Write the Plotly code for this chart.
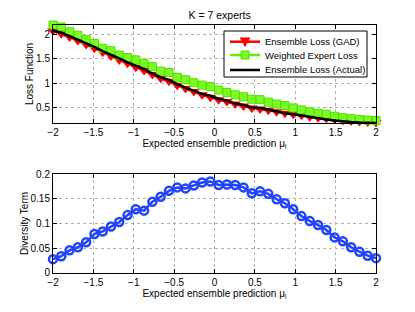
import numpy as np
import plotly.graph_objects as go
from plotly.subplots import make_subplots

x_vals = np.linspace(-2, 2, 40)

gad_loss = [2.08, 2.02, 1.95, 1.88, 1.80, 1.72, 1.64, 1.56, 1.48, 1.41,
            1.33, 1.26, 1.18, 1.10, 1.04, 0.96, 0.89, 0.83, 0.76, 0.71,
            0.66, 0.62, 0.57, 0.53, 0.49, 0.47, 0.44, 0.41, 0.38, 0.36,
            0.34, 0.31, 0.29, 0.27, 0.25, 0.23, 0.22, 0.21, 0.20, 0.19]

weighted_loss = [2.20, 2.16, 2.06, 1.99, 1.90, 1.82, 1.72, 1.67, 1.58, 1.53,
                 1.48, 1.41, 1.34, 1.25, 1.22, 1.12, 1.07, 1.01, 0.96, 0.93,
                 0.86, 0.81, 0.76, 0.72, 0.67, 0.66, 0.61, 0.57, 0.54, 0.49,
                 0.45, 0.41, 0.38, 0.36, 0.32, 0.29, 0.27, 0.25, 0.24, 0.23]

actual_loss = [2.09, 2.04, 1.97, 1.90, 1.83, 1.75, 1.66, 1.59, 1.51, 1.43,
               1.36, 1.29, 1.20, 1.12, 1.07, 0.98, 0.91, 0.85, 0.78, 0.74,
               0.68, 0.64, 0.58, 0.55, 0.50, 0.49, 0.45, 0.41, 0.38, 0.36,
               0.33, 0.30, 0.27, 0.25, 0.23, 0.21, 0.20, 0.19, 0.185, 0.18]

diversity = [0.028, 0.034, 0.046, 0.052, 0.062, 0.079, 0.084, 0.094, 0.103, 0.117,
             0.129, 0.126, 0.144, 0.154, 0.166, 0.173, 0.171, 0.177, 0.183, 0.185,
             0.178, 0.179, 0.178, 0.173, 0.161, 0.165, 0.160, 0.149, 0.141, 0.129,
             0.115, 0.105, 0.097, 0.087, 0.072, 0.064, 0.052, 0.043, 0.035, 0.030]

series_names = ["Ensemble Loss (GAD)", "Weighted Expert Loss", "Ensemble Loss (Actual)"]

x_ticks = [-2, -1.5, -1, -0.5, 0, 0.5, 1, 1.5, 2]
top_y_ticks = [0.5, 1, 1.5, 2]
bottom_y_ticks = [0, 0.05, 0.1, 0.15, 0.2]

FONT = "Liberation Sans, Arial, sans-serif"
RED, GREEN, GREEN_FILL, GREEN_EDGE, BLACK, BLUE = (
    "#ff0000", "#66ee00", "#77ff22", "#55dd00", "#000000", "#2244ff")

# figure geometry (pixels)
W, H = 407, 304
ML, MR, MT, MB = 45, 39, 17, 39
PW, PH = W - ML - MR, H - MT - MB

fig = make_subplots(rows=2, cols=1, vertical_spacing=0.0)

fig.add_trace(go.Scatter(x=x_vals, y=gad_loss, mode="lines+markers",
                         name=series_names[0], showlegend=False,
                         line=dict(color=RED, width=2.5),
                         marker=dict(symbol="triangle-down", size=10, color=RED),
                         cliponaxis=False), row=1, col=1)
fig.add_trace(go.Scatter(x=x_vals, y=weighted_loss, mode="lines+markers",
                         name=series_names[1], showlegend=False,
                         line=dict(color=GREEN, width=2.5),
                         marker=dict(symbol="square", size=8, color=GREEN_FILL,
                                     line=dict(color=GREEN_EDGE, width=1)),
                         cliponaxis=False), row=1, col=1)
fig.add_trace(go.Scatter(x=x_vals, y=actual_loss, mode="lines",
                         name=series_names[2], showlegend=False,
                         line=dict(color=BLACK, width=2.5),
                         cliponaxis=False), row=1, col=1)
fig.add_trace(go.Scatter(x=x_vals, y=diversity, mode="lines+markers",
                         name="Diversity Term", showlegend=False,
                         line=dict(color=BLUE, width=2.5),
                         marker=dict(symbol="circle-open", size=8, color=BLUE,
                                     line=dict(width=2.5)),
                         cliponaxis=False), row=2, col=1)

axis_common = dict(showline=True, linecolor="black", linewidth=1, mirror="ticks",
                   ticks="inside", ticklen=4, tickcolor="black", automargin=False,
                   showgrid=True, gridcolor="#b0b0b0", griddash="dot", gridwidth=1,
                   zeroline=False, tickfont=dict(size=10, color="black", family=FONT))

fig.update_xaxes(**axis_common, range=[-2, 2], tickvals=x_ticks,
                 ticktext=[("\u2212" + f"{abs(v):g}") if v < 0 else f"{v:g}" for v in x_ticks])
xtitle = dict(text="Expected ensemble prediction \u03bc<sub>l</sub>",
              font=dict(size=10, family=FONT, color="black"), standoff=1)
fig.update_xaxes(title=xtitle, row=1, col=1)
fig.update_xaxes(title=xtitle, row=2, col=1)
fig.update_yaxes(**axis_common)
fig.update_yaxes(range=[0.18, 2.2], tickvals=top_y_ticks,
                 title=dict(text="Loss Function", font=dict(size=10, family=FONT, color="black"),
                            standoff=0), row=1, col=1)
fig.update_yaxes(range=[0, 0.2], tickvals=bottom_y_ticks,
                 title=dict(text="Diversity Term", font=dict(size=10, family=FONT, color="black"),
                            standoff=0), row=2, col=1)

# ---- legend box (drawn in paper coordinates, pixel-based layout) ----
def px(xp):  # plot-area-relative pixel -> paper x
    return xp / PW

def py(yp):  # pixel from top of plot area -> paper y
    return 1 - yp / PH

box_l, box_r, box_t, box_b = 171, 314, 6, 52      # px relative to plot area
row_y = [16.7, 30.0, 45.0]
line_l, line_r, text_x = 177, 207, 210
mcx = (line_l + line_r) / 2

shapes = [dict(type="rect", xref="paper", yref="paper",
               x0=px(box_l), x1=px(box_r), y0=py(box_b), y1=py(box_t),
               line=dict(color="black", width=1), fillcolor="white", layer="above")]
legend_colors = [RED, GREEN, BLACK]
for ry, col in zip(row_y, legend_colors):
    shapes.append(dict(type="line", xref="paper", yref="paper",
                       x0=px(line_l), x1=px(line_r), y0=py(ry), y1=py(ry),
                       line=dict(color=col, width=2.5), layer="above"))
# triangle-down marker sample
tri = "M {:.5f},{:.5f} L {:.5f},{:.5f} L {:.5f},{:.5f} Z".format(
    px(mcx - 5), py(row_y[0] - 4), px(mcx + 5), py(row_y[0] - 4), px(mcx), py(row_y[0] + 5))
shapes.append(dict(type="path", xref="paper", yref="paper", path=tri,
                   fillcolor=RED, line=dict(color=RED, width=0.5), layer="above"))
# square marker sample
shapes.append(dict(type="rect", xref="paper", yref="paper",
                   x0=px(mcx - 4), x1=px(mcx + 4), y0=py(row_y[1] + 4), y1=py(row_y[1] - 4),
                   fillcolor=GREEN_FILL, line=dict(color=GREEN_EDGE, width=1), layer="above"))

annotations = [dict(text=name, xref="paper", yref="paper", x=px(text_x), y=py(ry),
                    xanchor="left", yanchor="middle", showarrow=False,
                    font=dict(size=9.5, family=FONT, color="black"))
               for name, ry in zip(series_names, row_y)]

fig.update_layout(
    width=W, height=H,
    margin=dict(l=ML, r=MR, t=MT, b=MB, autoexpand=False),
    paper_bgcolor="white", plot_bgcolor="white",
    font=dict(family=FONT, size=10, color="black"),
    title=dict(text="K = 7 experts", x=0.52, xanchor="center", y=0.975, yanchor="middle",
               automargin=False,
               font=dict(size=10.5, family=FONT, color="black")),
    showlegend=False,
    shapes=shapes,
    annotations=annotations,
)
fig.update_layout(yaxis=dict(domain=[0.605, 1.0]), yaxis2=dict(domain=[0.0, 0.399]))

fig.write_html("out.html")
